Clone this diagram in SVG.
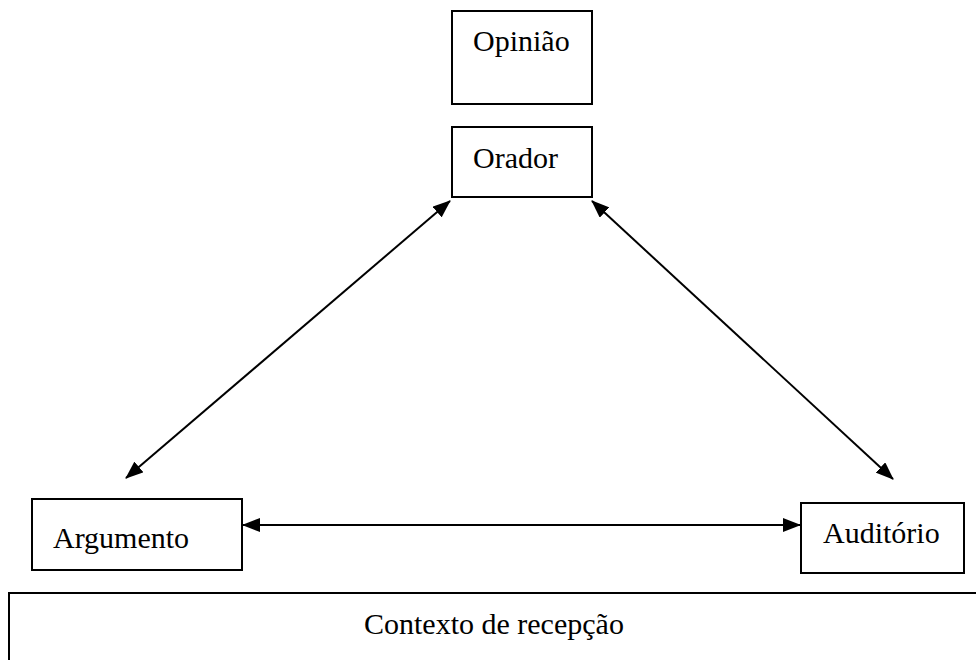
<svg xmlns="http://www.w3.org/2000/svg" width="976" height="660" viewBox="0 0 976 660">
<style>
.box{fill:#fff;stroke:#000;stroke-width:2}
.lbl{font-family:'Liberation Serif','Times New Roman',Times,serif;font-size:30px;fill:#000}
.conn{stroke:#000;stroke-width:2;fill:none;marker-start:url(#ah);marker-end:url(#ah)}
</style>
<defs>
<marker id="ah" markerUnits="userSpaceOnUse" markerWidth="18" markerHeight="14" viewBox="0 0 18 14" refX="17" refY="7" orient="auto-start-reverse">
<path d="M0,0 L18,7 L0,14 Z" fill="#000"/>
</marker>
</defs>
<rect x="0" y="0" width="976" height="660" fill="#fff"/>
<g id="opiniao"><rect class="box" x="452" y="11" width="140" height="93"/><text class="lbl" x="473" y="51">Opinião</text></g>
<g id="orador"><rect class="box" x="452" y="127" width="140" height="70"/><text class="lbl" x="473" y="168">Orador</text></g>
<g id="argumento"><rect class="box" x="32" y="499" width="210" height="71"/><text class="lbl" x="53" y="548">Argumento</text></g>
<g id="auditorio"><rect class="box" x="801" y="503" width="163" height="70"/><text class="lbl" x="823" y="543">Auditório</text></g>
<g id="contexto"><rect class="box" x="9" y="593" width="980" height="80"/><text class="lbl" x="364" y="634">Contexto de recepção</text></g>
<g id="connectors">
<line class="conn" x1="450" y1="201" x2="126" y2="478"/>
<line class="conn" x1="592" y1="201" x2="893" y2="479"/>
<line class="conn" x1="243" y1="525" x2="800" y2="525"/>
</g>
</svg>
